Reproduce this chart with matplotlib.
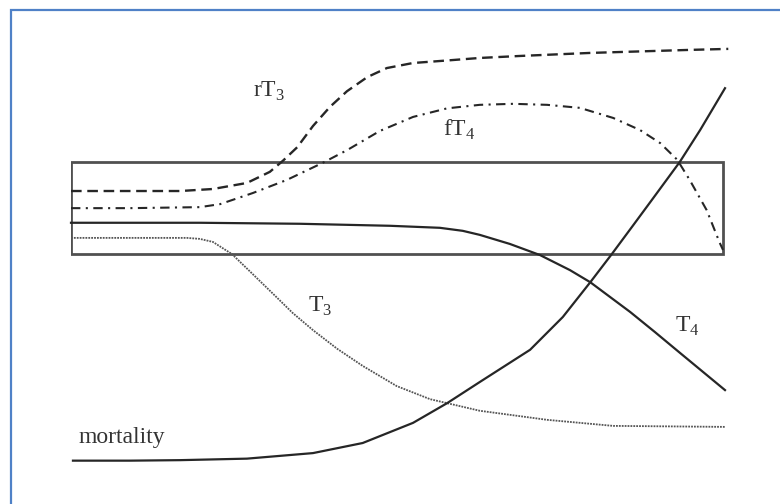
import matplotlib.pyplot as plt
from matplotlib.patches import Rectangle

plt.rcParams['mathtext.fontset'] = 'custom'
plt.rcParams['mathtext.rm'] = 'Liberation Serif'

# time axis 0..100, level 0..100 (arbitrary units)
rt3_x = [0, 9.0, 16.7, 21.7, 26.9, 30.4, 32.4, 34.6, 37.0, 39.6, 42.2, 45.3, 48.3, 52.3, 57.5, 62.5, 68.7, 79.4, 94.6, 100.5]
rt3_y = [62.1, 62.1, 62.1, 62.5, 63.7, 65.9, 68.1, 70.8, 75.0, 78.8, 81.9, 84.7, 86.5, 87.5, 88.0, 88.5, 88.9, 89.5, 90.1, 90.3]

ft4_x = [0, 9.0, 19.7, 22.8, 27.8, 33.0, 38.5, 42.2, 47.2, 52.3, 57.5, 62.5, 67.6, 72.8, 77.8,
         82.9, 87.0, 90.1, 92.7, 94.6, 97.2, 99.2, 99.7]
ft4_y = [58.7, 58.7, 58.9, 59.5, 61.7, 64.3, 67.7, 70.2, 74.0, 76.8, 78.5, 79.2, 79.4, 79.2, 78.6,
         76.6, 74.2, 71.6, 68.3, 64.3, 58.3, 51.8, 50.4]

t4_x = [0, 19.7, 35.0, 48.8, 56.4, 59.9, 62.5, 67.1, 71.7, 76.3, 79.4, 85.5, 89.3, 93.1, 100]
t4_y = [55.8, 55.8, 55.6, 55.2, 54.8, 54.2, 53.4, 51.6, 49.4, 46.4, 44.0, 38.1, 34.1, 30.0, 22.6]

t3_x = [0, 12.1, 17.7, 19.7, 21.7, 24.6, 27.8, 30.9, 33.9, 37.0, 40.7, 44.6, 49.8, 54.9, 62.5, 72.8, 82.9, 100]
t3_y = [52.8, 52.8, 52.8, 52.6, 52.0, 49.6, 45.6, 41.7, 37.9, 34.5, 30.8, 27.4, 23.4, 20.8, 18.5, 16.7, 15.5, 15.3]

mort_x = [0.3, 9.0, 16.7, 26.9, 37.0, 44.6, 52.3, 57.5, 62.5, 70.2, 75.2, 79.4, 82.7, 85.9, 88.8, 93.1, 96.2, 100]
mort_y = [8.6, 8.6, 8.7, 9.0, 10.1, 12.1, 16.1, 20.0, 24.2, 30.6, 37.1, 44.0, 49.6, 55.2, 60.3, 67.9, 74.2, 82.5]

# normal range box
box_x0, box_x1 = 0, 99.7
box_y0, box_y1 = 49.6, 67.9

labels = ['rT$_{\\mathregular{3}}$', 'fT$_{\\mathregular{4}}$', 'T$_{\\mathregular{3}}$', 'T$_{\\mathregular{4}}$', 'mortality']
label_x = [27.8, 56.9, 36.2, 92.4, 1.1]
label_y = [80.8, 73.0, 38.1, 34.1, 12.1]

fig = plt.figure(figsize=(7.8, 5.04), dpi=100)
fig.patches.append(Rectangle((10.5 / 780, -0.1), 1.2, 1 - 9.5 / 504 + 0.1, transform=fig.transFigure,
                             fill=False, edgecolor='#4f81c7', linewidth=1.6))
ax = fig.add_axes([71 / 780, 0, 654 / 780, 1])
ax.set_xlim(0, 100)
ax.set_ylim(0, 100)
ax.axis('off')

ax.add_patch(Rectangle((box_x0, box_y0), box_x1 - box_x0, box_y1 - box_y0,
                       fill=False, edgecolor='#505050', linewidth=2.0))

dark = '#262626'
common = dict(clip_on=False, solid_joinstyle='round', dash_joinstyle='round')
ax.plot(rt3_x, rt3_y, color=dark, lw=1.7, linestyle=(0, (4.5, 2.4)), **common)
ax.plot(ft4_x, ft4_y, color=dark, lw=1.5, linestyle=(0, (4.5, 2.6, 1, 2.6)), **common)
ax.plot(t4_x, t4_y, color=dark, lw=1.6, **common)
ax.plot(t3_x, t3_y, color='#555555', lw=1.3, linestyle=(0, (1, 0.6)), **common)
ax.plot(mort_x, mort_y, color=dark, lw=1.6, **common)

for s, x, y in zip(labels, label_x, label_y):
    ax.text(x, y, s, fontsize=17, family='Liberation Serif', color='#333333',
            ha='left', va='baseline')

fig.savefig('out.png', dpi=100)
